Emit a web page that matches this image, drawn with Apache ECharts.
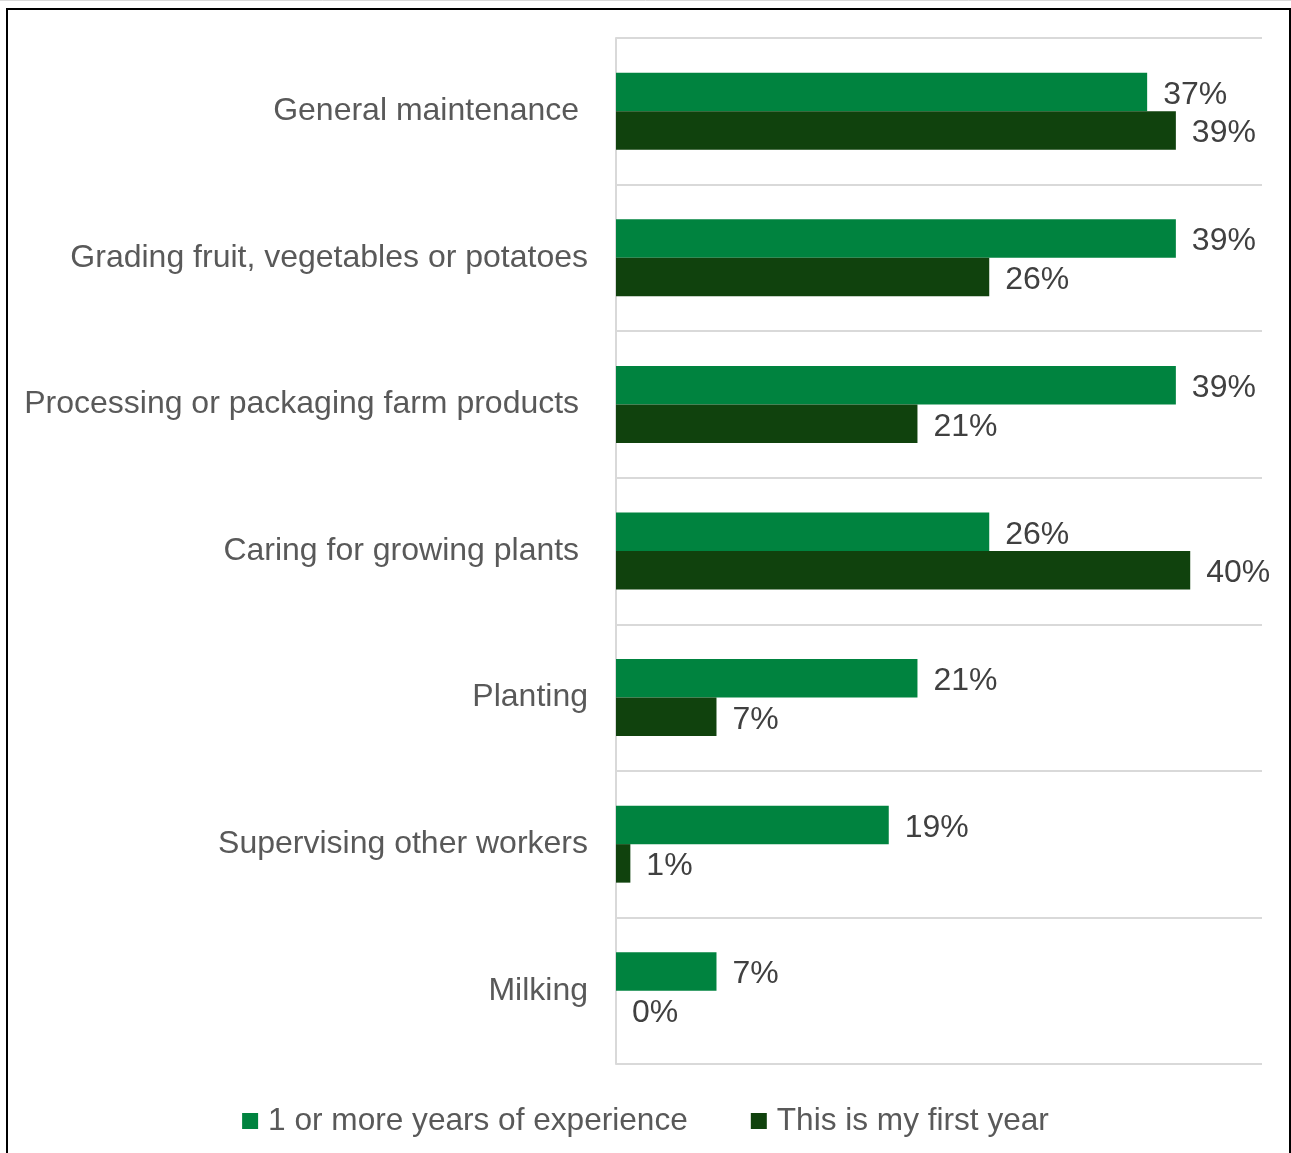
<!DOCTYPE html>
<html>
<head>
<meta charset="utf-8">
<script src="https://cdn.jsdelivr.net/npm/echarts@6/dist/echarts.min.js"></script>
<style>
  html, body { margin: 0; padding: 0; background: #fff; }
  #chart { width: 1291px; height: 1153px; }
</style>
</head>
<body>
<div id="chart"></div>
<script>
// Task categories (top to bottom). Some labels carry a trailing space as in the source sheet.
const categories = [
  'General maintenance ',
  'Grading fruit, vegetables or potatoes',
  'Processing or packaging farm products ',
  'Caring for growing plants ',
  'Planting',
  'Supervising other workers',
  'Milking'
];
const seriesNames = ['1 or more years of experience', 'This is my first year'];
// Share of respondents (%)
const experienced = [37, 39, 39, 26, 21, 19, 7];
const firstYear   = [39, 26, 21, 40, 7, 1, 0];

const FONT = 'Liberation Sans, Arial, sans-serif';
const chart = echarts.init(document.getElementById('chart'));

const labelStyle = {
  show: true,
  position: 'right',
  distance: 16,
  offset: [0, 3],
  formatter: p => p.value + '%',
  fontFamily: FONT,
  fontSize: 32,
  color: '#404040'
};

chart.setOption({
  animation: false,
  backgroundColor: '#fff',
  graphic: [
    {
      type: 'rect',
      shape: { x: 7, y: 9, width: 1283, height: 1170 },
      style: { fill: 'none', stroke: '#000', lineWidth: 2 },
      silent: true
    },
    {
      type: 'line',
      shape: { x1: 0, y1: 0.5, x2: 1291, y2: 0.5 },
      style: { stroke: '#d9d9d9', lineWidth: 1 },
      silent: true
    }
  ],
  grid: { left: 616, right: 29, top: 38, bottom: 89, containLabel: false },
  legend: {
    data: seriesNames,
    left: 'center',
    top: 1100,
    itemWidth: 16,
    itemHeight: 16,
    itemGap: 63,
    icon: 'rect',
    textStyle: { fontFamily: FONT, fontSize: 31.6, color: '#595959', padding: [0, 0, 0, 5] }
  },
  xAxis: {
    type: 'value',
    min: 0,
    max: 45,
    show: false,
    splitLine: { show: false }
  },
  yAxis: {
    type: 'category',
    data: categories,
    inverse: true,
    axisLine: { show: true, lineStyle: { color: '#d9d9d9', width: 2 } },
    axisTick: { show: false },
    splitLine: { show: true, lineStyle: { color: '#d9d9d9', width: 2 } },
    axisLabel: {
      fontFamily: FONT,
      fontSize: 32,
      color: '#595959',
      margin: 28,
      lineHeight: 36,
      padding: [5, 0, 0, 0]
    }
  },
  series: [
    {
      name: seriesNames[0],
      type: 'bar',
      data: experienced,
      barWidth: 38.5,
      barGap: '0%',
      itemStyle: { color: '#00833F' },
      label: labelStyle
    },
    {
      name: seriesNames[1],
      type: 'bar',
      data: firstYear,
      barWidth: 38.5,
      itemStyle: { color: '#10420D' },
      label: labelStyle
    }
  ]
});
</script>
</body>
</html>
